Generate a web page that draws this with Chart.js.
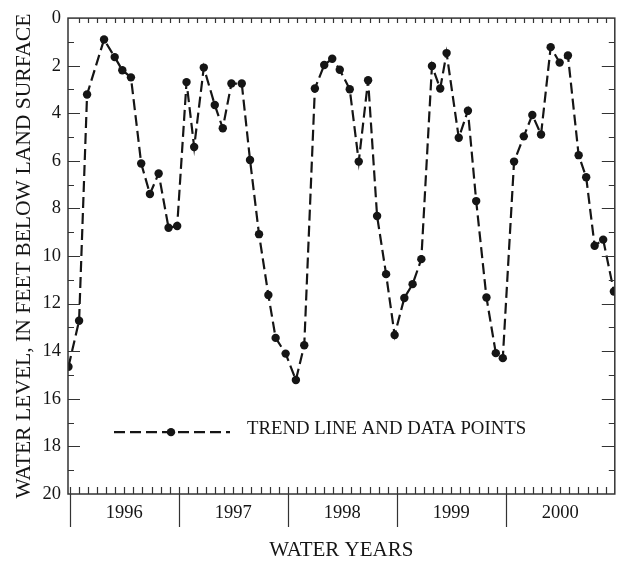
<!DOCTYPE html>
<html>
<head>
<meta charset="utf-8">
<script src="https://cdn.jsdelivr.net/npm/chart.js@4"></script>
<style>
  html, body { margin: 0; padding: 0; background: #fff; }
  canvas { display: block; }
</style>
</head>
<body>
<canvas id="chart" width="619" height="563"></canvas>
<script>
// months since start of water year 1996 (Oct 1995)
let months = [-0.15, 1.02, 1.90, 3.77, 4.94, 5.78, 6.73, 7.86, 8.82, 9.78, 10.87, 11.82,
  12.85, 13.69, 14.75, 15.96, 16.84, 17.79, 18.93, 19.84, 20.83, 21.86, 22.66, 23.76,
  24.89, 25.81, 26.98, 28.01, 28.89, 29.72, 30.82, 31.81, 32.84, 33.83, 34.82, 35.76,
  36.83, 37.74, 38.70, 39.87, 40.78, 41.48, 42.82, 43.83, 44.74, 45.87, 46.90, 47.67,
  48.91, 49.98, 50.92, 51.88, 52.94, 53.93, 54.84, 56.02, 56.85, 57.78, 58.72, 59.90]
// water level, feet below land surface
let levels = [14.65, 12.72, 3.21, 0.90, 1.64, 2.19, 2.49, 6.11, 7.39, 6.53, 8.81, 8.74,
  2.69, 5.42, 2.08, 3.65, 4.63, 2.75, 2.75, 5.96, 9.08, 11.64, 13.44, 14.10,
  15.21, 13.75, 2.96, 1.97, 1.71, 2.17, 2.99, 6.03, 2.61, 8.32, 10.76, 13.32,
  11.76, 11.18, 10.13, 2.01, 2.96, 1.47, 5.03, 3.89, 7.69, 11.74, 14.08, 14.29,
  6.03, 4.97, 4.07, 4.89, 1.22, 1.87, 1.57, 5.76, 6.69, 9.57, 9.31, 11.49]

let years = ["1996", "1997", "1998", "1999", "2000"]
let yearCenters = [6, 18, 30, 42, 54]
let yearStarts = [0, 12, 24, 36, 48, 60]

let legendText = "TREND LINE AND DATA POINTS"
let legendLevel = 17.4

let serif = "'Liberation Serif', 'Times New Roman', serif"
let ink = "#151515"

let ticksPlugin = {
    id: "ticks",
    afterDraw(chart) {
        let ctx = chart.ctx
        let a = chart.chartArea
        let xs = chart.scales.x
        let ys = chart.scales.y
        ctx.save()
        ctx.strokeStyle = "#333"
        ctx.lineWidth = 1.5
        ctx.strokeRect(a.left, a.top, a.right - a.left, a.bottom - a.top)

        ctx.lineWidth = 1.2
        ctx.beginPath()
        for (let m = 1; m < 60; m++) {
            let px = Math.round(xs.getPixelForValue(m)) + 0.5
            ctx.moveTo(px, a.top)
            ctx.lineTo(px, a.top + 5)
            if (m % 12 != 0) {
                ctx.moveTo(px, a.bottom)
                ctx.lineTo(px, a.bottom - 7)
            }
        }
        for (let s of yearStarts) {
            if (s >= 60) continue
            let px = Math.round(xs.getPixelForValue(s)) + 0.5
            ctx.moveTo(px, a.bottom - 7)
            ctx.lineTo(px, a.bottom + 33)
        }
        for (let v = 1; v < 20; v++) {
            let py = Math.round(ys.getPixelForValue(v)) + 0.5
            let major = v % 2 == 0
            ctx.moveTo(a.left, py)
            ctx.lineTo(a.left + (major ? 12 : 6), py)
            ctx.moveTo(a.right, py)
            ctx.lineTo(a.right - (major ? 13 : 6), py)
        }
        ctx.stroke()

        // legend
        let ly = ys.getPixelForValue(legendLevel)
        ctx.strokeStyle = ink
        ctx.lineWidth = 2.2
        ctx.setLineDash([11, 5])
        ctx.beginPath()
        ctx.moveTo(a.left + 46, ly)
        ctx.lineTo(a.left + 162, ly)
        ctx.stroke()
        ctx.setLineDash([])
        ctx.fillStyle = ink
        ctx.beginPath()
        ctx.arc(a.left + 103, ly, 4.2, 0, Math.PI * 2)
        ctx.fill()
        ctx.font = "18.8px " + serif
        ctx.textBaseline = "middle"
        ctx.fillText(legendText, a.left + 179, ly - 3)
        ctx.restore()
    }
}

new Chart(document.getElementById("chart"), {
    type: "line",
    data: {
        datasets: [{
            data: months.map((m, i) => ({ x: m, y: levels[i] })),
            borderColor: ink,
            borderWidth: 2.2,
            borderDash: [11, 5],
            pointRadius: 4.2,
            pointBackgroundColor: ink,
            pointBorderWidth: 0,
            tension: 0
        }]
    },
    options: {
        responsive: false,
        animation: false,
        layout: { padding: { top: 14, right: 3, left: 0, bottom: 0 } },
        plugins: { legend: { display: false }, tooltip: { enabled: false } },
        scales: {
            x: {
                type: "linear",
                min: -0.2,
                max: 60,
                grid: { display: false, drawTicks: false },
                border: { display: false },
                afterBuildTicks: s => { s.ticks = yearCenters.map(v => ({ value: v })) },
                afterFit: s => { s.height = 69 },
                ticks: {
                    autoSkip: false,
                    maxRotation: 0,
                    padding: 8,
                    color: ink,
                    font: { family: serif, size: 18.5 },
                    callback: v => years[yearCenters.indexOf(v)]
                },
                title: {
                    display: true,
                    text: "WATER YEARS",
                    color: ink,
                    font: { family: serif, size: 21 },
                    padding: { top: 0, bottom: 0 }
                }
            },
            y: {
                reverse: true,
                min: 0,
                max: 20,
                grid: { display: false, drawTicks: false },
                border: { display: false },
                afterFit: s => { s.width = 68 },
                ticks: {
                    stepSize: 2,
                    padding: 7,
                    color: ink,
                    font: { family: serif, size: 18.5 }
                },
                title: {
                    display: true,
                    text: "WATER LEVEL, IN FEET BELOW LAND SURFACE",
                    color: ink,
                    font: { family: serif, size: 21.6 },
                    padding: { top: 11, bottom: 0 }
                }
            }
        }
    },
    plugins: [ticksPlugin]
})
</script>
</body>
</html>
